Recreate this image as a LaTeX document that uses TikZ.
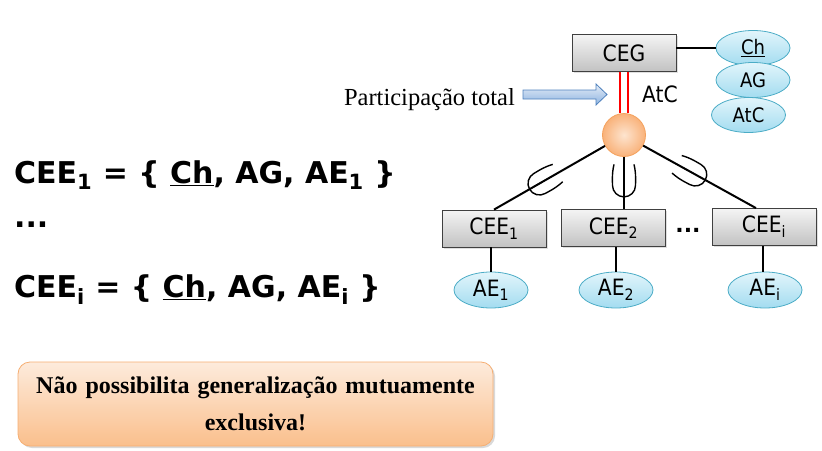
\documentclass[tikz,border=0pt]{standalone}
\usepackage{fontspec}
\setmainfont{Liberation Serif}
\newfontfamily\tah[FakeStretch=0.9]{DejaVu Sans}
\newfontfamily\vrd{DejaVu Sans}
\usetikzlibrary{shapes.geometric,shadows,calc}
\definecolor{boxtop}{HTML}{F4F4F4}
\definecolor{boxbot}{HTML}{C2C2C2}
\definecolor{elltop}{HTML}{E2F5FB}
\definecolor{ellbot}{HTML}{A3DCF0}
\definecolor{elldraw}{HTML}{4BACC6}
\definecolor{orin}{HTML}{FDE4CF}
\definecolor{orout}{HTML}{F9B27A}
\definecolor{ordraw}{HTML}{F4A15C}
\definecolor{arrtop}{HTML}{E3ECF7}
\definecolor{arrbot}{HTML}{8EB3E0}
\definecolor{arrdraw}{HTML}{4F81BD}
\definecolor{notetop}{HTML}{FDEBDC}
\definecolor{notebot}{HTML}{FABF8C}
\definecolor{notedraw}{HTML}{F6AE72}
\tikzset{
  entbox/.style={draw=black!75, line width=0.8pt, top color=boxtop, bottom color=boxbot,
    minimum width=104pt, minimum height=37pt, inner sep=0pt,
    font=\tah\fontsize{22.5}{25}\selectfont,
    drop shadow={opacity=0.25, shadow xshift=1.5pt, shadow yshift=-1.5pt}},
  attr/.style={ellipse, draw=elldraw, line width=0.8pt, top color=elltop, bottom color=ellbot,
    minimum width=74pt, minimum height=35pt, inner sep=0pt,
    font=\tah\fontsize{20}{23}\selectfont},
  aeattr/.style={attr, minimum height=36pt, font=\tah\fontsize{22.5}{25}\selectfont},
  link/.style={line width=2pt, black},
  subsmark/.style={line width=1.4pt, black},
  bigtext/.style={anchor=base west, inner sep=0pt, font=\vrd\bfseries\fontsize{30}{34}\selectfont},
}
\newcommand\subsetmark[2]{%
  \draw[subsmark, shift={#1}, rotate=#2] (21,10) .. controls (12,12.2) and (4,11.5) .. (0,11.5)
    arc[start angle=90,end angle=270,radius=11.5] .. controls (4,-11.5) and (12,-12.2) .. (21,-10);}
\begin{document}
\begin{tikzpicture}[x=1pt,y=-1pt]
\useasboundingbox (0,0) rectangle (822,450);
% top entity and attributes
\node[entbox] (ceg) at (624,53) {CEG};
\node[attr] (ch) at (753,48) {\underline{Ch}};
\node[attr] (ag) at (753,80) {AG};
\node[attr] (atc) at (748.5,115) {AtC};
\draw[link] (ch.west) -- (ch.west -| ceg.east);
% specialization circle
\node[circle, draw=ordraw, line width=0.8pt, inner color=orin, outer color=orout,
  minimum size=43pt, inner sep=0pt] (circ) at (624,135) {};
\draw[red, line width=2pt, double=white, double distance=5.4pt] (ceg.south) -- (circ.north);
\node[font=\tah\fontsize{22.5}{25}\selectfont, inner sep=0pt] (atclbl) at (660,94.5) {AtC};
% participation label and arrow
\node[anchor=base east, inner sep=0pt, font=\fontsize{24.5}{28}\selectfont] (ptlbl) at (515,105.5) {Participação total};
\coordinate (arrtail) at (523,94.5);
\path[draw=arrdraw, line width=0.8pt, top color=arrtop, bottom color=arrbot]
  ($(arrtail)+(0,-4.5)$) -- ++(73,0) -- ++(0,-6) -- ++(11,10.5) -- ++(-11,10.5) -- ++(0,-6) -- ++(-73,0) -- cycle;
% sub entities
\node[entbox] (cee1) at (494,228.5) {CEE\textsubscript{1}};
\node[entbox] (cee2) at (613.5,228) {CEE\textsubscript{2}};
\node[entbox] (ceei) at (764,227) {CEE\textsubscript{i}};
\node[font=\vrd\bfseries\fontsize{22}{24}\selectfont, inner sep=0pt] (dots) at (688,230) {...};
\coordinate (cee1top) at (cee1.north);
\coordinate (cee2top) at (circ.south |- cee2.north);
\coordinate (ceeitop) at ($(ceei.north)+(-8,0)$);
\draw[link] (circ) -- (cee1top);
\draw[link] (circ.south) -- (cee2top);
\draw[link] (circ) -- (ceeitop);
\subsetmark{($(circ)!0.65!(cee1top)$)}{29.8}
\subsetmark{($(circ)!0.68!(cee2top)$)}{90}
\subsetmark{($(circ)!0.54!(ceeitop)$)}{151}
% attributes of sub entities
\node[aeattr] (ae1) at (491,290) {AE\textsubscript{1}};
\node[aeattr] (ae2) at (616,290) {AE\textsubscript{2}};
\node[aeattr] (aei) at (765,290) {AE\textsubscript{i}};
\draw[link] (ae1.north) -- (ae1.north |- cee1.south);
\draw[link] (ae2.north) -- (ae2.north |- cee2.south);
\draw[link] ([xshift=-2pt]aei.north) -- ([xshift=-2pt]aei.north |- ceei.south);
% left definitions
\node[bigtext] (def1) at (14,183) {CEE\textsubscript{1} = \{ \underline{Ch}, AG, AE\textsubscript{1} \}};
\node[bigtext] (defdots) at (14,227) {...};
\node[bigtext] (defi) at (14,297) {CEE\textsubscript{i} = \{ \underline{Ch}, AG, AE\textsubscript{i} \}};
% note
\node[rounded corners=12pt, draw=notedraw, line width=0.8pt, top color=notetop, bottom color=notebot,
  minimum width=475pt, minimum height=84pt, text width=465pt, align=center,
  font=\bfseries\fontsize{24}{37}\selectfont,
  drop shadow={opacity=0.3, shadow xshift=2pt, shadow yshift=-2pt}] (note) at (255.5,404)
  {Não possibilita generalização mutuamente\\exclusiva!};
\end{tikzpicture}
\end{document}
